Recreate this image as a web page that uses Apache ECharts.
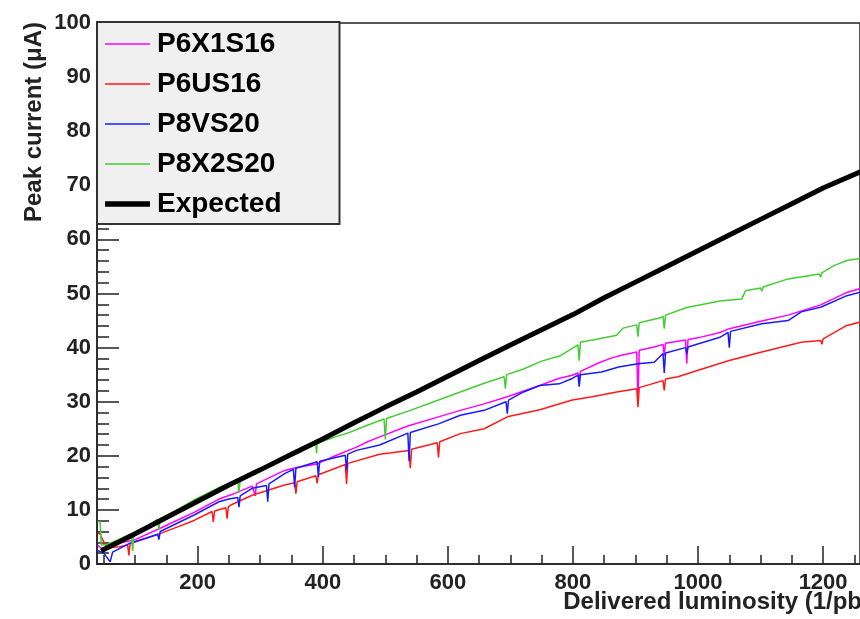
<!DOCTYPE html>
<html>
<head>
<meta charset="utf-8">
<script src="https://cdn.jsdelivr.net/npm/echarts@6/dist/echarts.min.js"></script>
<style>
html,body{margin:0;padding:0;background:#fff;}
#chart{width:860px;height:619px;}
</style>
</head>
<body>
<div id="chart"></div>
<script>
// ---- data ----
const seriesNames = ['P6X1S16', 'P6US16', 'P8VS20', 'P8X2S20', 'Expected'];

const xMajorTicks = [200, 400, 600, 800, 1000, 1200];
const xMinorTicks = [50, 100, 150, 250, 300, 350, 450, 500, 550, 650, 700, 750, 850, 900, 950, 1050, 1100, 1150, 1250];

const p6x1s16X = [40, 45, 55, 75, 100, 140, 195, 234, 258, 287, 290, 292, 294, 339, 360, 391, 420, 454, 470, 491, 536, 585, 620, 658, 695, 747, 777, 799, 808, 810, 812, 840, 862, 878, 902, 904, 906, 930, 944, 946, 948, 980, 982, 984, 1000, 1035, 1050, 1102, 1144, 1196, 1238, 1262];
const p6x1s16Y = [3.5, 3.0, 2.8, 3.9, 4.5, 6.6, 9.6, 12.0, 13.0, 14.4, 14.6, 12.6, 14.8, 17.3, 17.9, 18.5, 20.0, 21.6, 22.5, 23.5, 25.5, 27.2, 28.4, 29.6, 30.9, 33.0, 34.3, 34.9, 35.3, 34.2, 35.6, 37.1, 38.1, 38.6, 39.2, 30.3, 39.5, 40.1, 40.6, 38.5, 40.8, 41.4, 37.0, 41.5, 41.8, 42.8, 43.5, 44.9, 46.0, 47.9, 50.2, 51.0];

const p6us16X = [40, 44, 48, 55, 75, 88, 90, 92, 130, 169, 195, 223, 225, 227, 245, 247, 249, 253, 287, 339, 355, 357, 359, 389, 391, 393, 436, 438, 440, 491, 538, 540, 542, 583, 585, 587, 620, 658, 695, 747, 799, 831, 870, 902, 904, 906, 944, 946, 948, 968, 1000, 1050, 1102, 1165, 1196, 1198, 1200, 1238, 1262];
const p6us16Y = [5.8, 5.5, 4.5, 3.0, 3.2, 3.5, 1.6, 3.8, 5.2, 6.9, 8.1, 9.7, 7.8, 9.8, 10.4, 8.4, 10.6, 10.9, 12.7, 14.6, 15.0, 13.0, 15.2, 16.3, 14.9, 16.5, 18.4, 14.8, 18.6, 20.3, 21.0, 17.7, 21.2, 22.4, 19.7, 22.6, 24.1, 25.0, 27.2, 28.5, 30.3, 30.9, 31.8, 32.4, 29.0, 32.6, 33.9, 32.1, 34.2, 34.6, 35.8, 37.6, 39.2, 41.0, 41.3, 40.6, 41.6, 44.1, 44.8];

const p8vs20X = [40, 50, 60, 64, 91, 136, 138, 140, 195, 234, 250, 264, 266, 268, 287, 310, 312, 314, 339, 353, 355, 357, 391, 393, 395, 436, 438, 440, 454, 491, 536, 538, 540, 585, 620, 658, 693, 695, 697, 721, 747, 778, 799, 808, 810, 812, 846, 873, 904, 930, 944, 946, 948, 980, 982, 984, 1035, 1048, 1050, 1052, 1102, 1144, 1165, 1197, 1238, 1262];
const p8vs20Y = [2.5, 2.0, 0.4, 2.2, 3.8, 5.5, 4.5, 6.0, 9.1, 11.5, 12.0, 12.3, 10.5, 12.6, 14.0, 14.5, 11.5, 14.8, 16.7, 17.5, 14.2, 17.7, 18.9, 16.1, 19.0, 20.1, 17.3, 20.3, 21.0, 22.0, 24.2, 19.0, 24.3, 25.9, 27.5, 28.4, 30.0, 27.8, 30.3, 31.8, 33.0, 33.3, 34.3, 34.9, 32.8, 35.0, 35.5, 36.4, 37.0, 37.3, 38.9, 35.3, 39.0, 40.0, 38.9, 40.1, 41.9, 42.8, 40.0, 43.0, 44.4, 45.0, 46.6, 47.5, 49.6, 50.3];

const p8x2s20X = [40, 44, 46, 55, 75, 94, 96, 98, 120, 136, 138, 140, 170, 195, 230, 264, 266, 268, 300, 340, 355, 389, 390, 391, 420, 440, 470, 498, 500, 502, 540, 585, 620, 658, 690, 692, 694, 720, 750, 780, 808, 810, 812, 840, 870, 880, 902, 904, 906, 940, 944, 946, 948, 982, 1035, 1070, 1076, 1100, 1102, 1104, 1144, 1194, 1196, 1198, 1218, 1238, 1262];
const p8x2s20Y = [7.8, 7.8, 3.5, 3.6, 4.6, 5.6, 2.4, 5.7, 7.0, 8.3, 6.3, 8.4, 10.2, 11.9, 13.9, 15.6, 13.2, 15.7, 17.6, 19.6, 20.2, 22.2, 20.5, 22.3, 23.5, 24.2, 25.6, 26.8, 23.0, 26.9, 28.4, 30.3, 31.8, 33.4, 34.6, 32.4, 35.0, 36.0, 37.5, 38.5, 40.5, 37.6, 41.0, 41.6, 42.3, 43.6, 44.2, 42.0, 44.6, 45.5, 45.8, 43.5, 46.0, 47.4, 48.6, 49.0, 50.5, 51.0, 50.4, 51.2, 52.7, 53.6, 53.0, 53.8, 55.2, 56.1, 56.5];

const expectedX = [46, 50, 100, 150, 200, 250, 300, 350, 400, 450, 500, 550, 600, 650, 700, 750, 800, 850, 900, 950, 1000, 1050, 1100, 1150, 1200, 1262];
const expectedY = [2.4, 2.7, 5.6, 8.6, 11.6, 14.6, 17.4, 20.3, 23.1, 26.1, 29.0, 31.8, 34.7, 37.6, 40.5, 43.3, 46.1, 49.2, 52.1, 55.0, 57.9, 60.8, 63.7, 66.6, 69.5, 72.6];

// ---- build ----
const zip = (xs, ys) => xs.map((x, i) => [x, ys[i]]);
const colors = ['#ff00ff', '#ff1a1a', '#1a1aff', '#44cc33', '#000000'];
const widths = [1.5, 1.5, 1.5, 1.5, 5];
const legendIcons = [
  'path://M0,0L90,0L90,3L0,3Z',
  'path://M0,0L90,0L90,3L0,3Z',
  'path://M0,0L90,0L90,3L0,3Z',
  'path://M0,0L90,0L90,3L0,3Z',
  'path://M0,0L90,0L90,11L0,11Z'
];
const sets = [
  zip(p6x1s16X, p6x1s16Y),
  zip(p6us16X, p6us16Y),
  zip(p8vs20X, p8vs20Y),
  zip(p8x2s20X, p8x2s20Y),
  zip(expectedX, expectedY)
];

const FONT = '"Liberation Sans", Arial, Helvetica, sans-serif';
const chart = echarts.init(document.getElementById('chart'), null, {renderer: 'canvas'});

const option = {
  animation: false,
  backgroundColor: '#ffffff',
  grid: {
    left: 97, top: 23, width: 773, height: 541,
    show: true, borderColor: '#222', borderWidth: 1.5, backgroundColor: 'transparent'
  },
  legend: {
    orient: 'vertical',
    left: 97, top: 22,
    selectedMode: false,
    backgroundColor: '#f0f0f0',
    borderColor: '#333',
    borderWidth: 2,
    borderRadius: 0,
    padding: [8, 58, 6, 8],
    itemWidth: 45,
    itemHeight: 14,
    itemGap: 12,
    symbolKeepAspect: true,
    data: seriesNames.map((n, i) => ({name: n, icon: legendIcons[i], itemStyle: {color: colors[i], borderWidth: 0}})),
    textStyle: {fontFamily: FONT, fontWeight: 'bold', fontSize: 28, color: '#000', lineHeight: 28, padding: [0, 0, 0, 2]}
  },
  xAxis: [{
    type: 'value', min: 39, max: 1259,
    axisLine: {show: true, lineStyle: {color: '#222', width: 1.5}},
    axisTick: {show: true, inside: true, length: 18, customValues: xMajorTicks, lineStyle: {color: '#222', width: 1.5}},
    axisLabel: {show: true, customValues: xMajorTicks, margin: 8, fontFamily: FONT, fontSize: 22, fontWeight: 'bold', color: '#222',
      formatter: v => String(v)},
    splitLine: {show: false}
  }, {
    type: 'value', min: 39, max: 1259, position: 'bottom',
    axisLine: {show: false},
    axisTick: {show: true, inside: true, length: 9, customValues: xMinorTicks, lineStyle: {color: '#222', width: 1.5}},
    axisLabel: {show: false},
    splitLine: {show: false}
  }],
  yAxis: {
    type: 'value', min: 0, max: 100, interval: 10,
    axisLine: {show: true, lineStyle: {color: '#222', width: 1.5}},
    axisTick: {show: true, inside: true, length: 22, lineStyle: {color: '#222', width: 1.5}},
    minorTick: {show: true, splitNumber: 5, length: 12, lineStyle: {color: '#222', width: 1.5}},
    axisLabel: {margin: 6, fontFamily: FONT, fontSize: 22, fontWeight: 'bold', color: '#222'},
    splitLine: {show: false}
  },
  graphic: [
    {
      type: 'text', x: 34, y: 22, rotation: Math.PI / 2,
      style: {text: 'Peak current (\u03bcA)', fontFamily: FONT, fontWeight: 'bold', fontSize: 24, fill: '#222', align: 'right', verticalAlign: 'middle'}
    },
    {
      type: 'text', x: 870, y: 602,
      style: {text: 'Delivered luminosity (1/pb)', fontFamily: FONT, fontWeight: 'bold', fontSize: 24, fill: '#222', align: 'right', verticalAlign: 'middle'}
    }
  ],
  series: seriesNames.map((name, i) => ({
    name: name,
    type: 'line',
    xAxisIndex: 0,
    data: sets[i],
    symbol: 'none',
    showSymbol: false,
    color: colors[i],
    lineStyle: {color: colors[i], width: widths[i]},
    z: i === 4 ? 5 : 3
  }))
};
chart.setOption(option);
</script>
</body>
</html>
